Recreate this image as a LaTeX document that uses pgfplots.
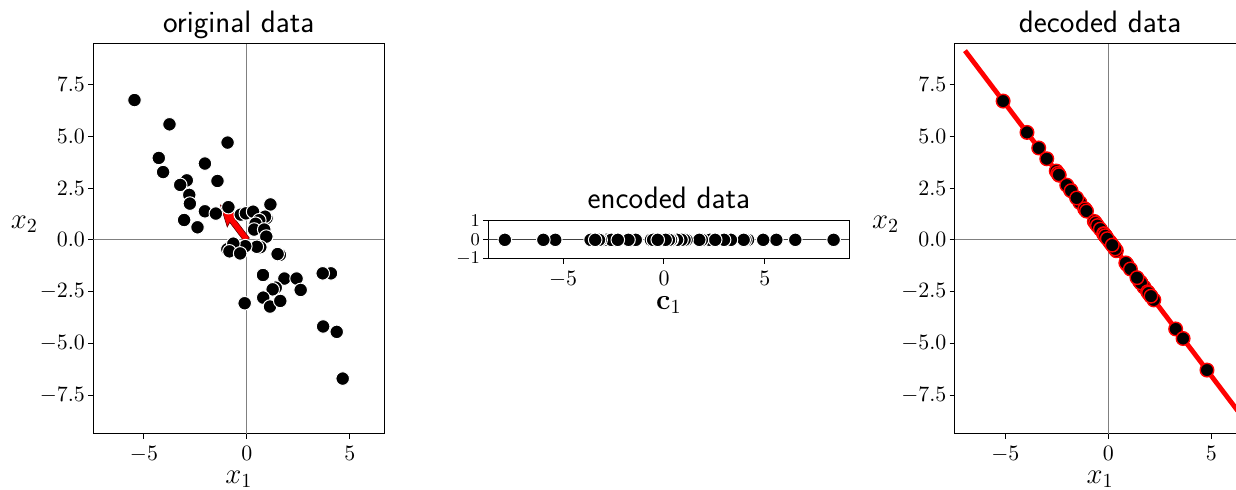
\documentclass[border=0pt]{standalone}
\usepackage{pgfplots}
\pgfplotsset{compat=1.18}

\pgfplotsset{
  panel/.style={
    scale only axis,
    axis line style={line width=0.5pt},
    every tick/.style={black, line width=0.5pt},
    tick align=outside,
    major tick length=2.5pt,
    xtick pos=bottom, ytick pos=left,
    tick label style={font=\fontsize{10.5}{12}\selectfont},
    yticklabel style={inner sep=1.5pt},
    every axis title/.style={at={(axis description cs:0.5,1)}, anchor=base,
      yshift=5.5pt, font=\sffamily\fontsize{15.5}{18}\selectfont},
    every axis x label/.style={at={(axis description cs:0.5,0)}, anchor=center,
      yshift=-22.5pt, font=\fontsize{14.5}{16}\selectfont},
    every axis y label/.style={at={(axis description cs:0,0.5)}, anchor=center,
      xshift=-34.5pt, yshift=7.5pt, font=\fontsize{14.5}{16}\selectfont},
  },
  pts/.style={only marks, mark=*, mark size=3.4pt,
    mark options={fill=black, draw=white, line width=0.5pt}},
  zeroline/.style={gray, line width=0.5pt},
}

\begin{document}
\begin{tikzpicture}

% original data
\begin{axis}[panel, at={(46.65pt,28pt)}, anchor=south west,
  width=145.5pt, height=195pt,
  xmin=-7.46, xmax=6.67, ymin=-9.35, ymax=9.44,
  xtick={-5,0,5}, ytick={-7.5,-5,-2.5,0,2.5,5,7.5},
  yticklabel style={/pgf/number format/.cd, fixed, fixed zerofill, precision=1},
  title={original data}, xlabel={$x_1$}, ylabel={$x_2$}]
\addplot[zeroline] coordinates {(-7.46,0) (6.67,0)};
\addplot[zeroline] coordinates {(0,-9.35) (0,9.44)};
\addplot[pts] coordinates {
(-5.46,6.74) (-3.76,5.57) (-0.94,4.69) (-4.28,3.95) (-4.07,3.27) (-2.04,3.68)
(-1.43,2.84) (-2.92,2.87) (-3.24,2.65) (-2.80,2.17) (-2.77,1.75) (-2.04,1.38)
(-1.51,1.27) (-3.05,0.96) (-2.40,0.61) (-0.90,1.58) (-0.30,1.22) (-0.05,1.28)
(0.30,1.36) (1.14,1.71) (0.95,1.05) (0.88,1.12) (0.60,0.95) (0.42,0.78)
(0.35,0.50) (0.84,0.50) (0.94,0.16) (-0.95,-0.45) (0.65,-0.35) (0.48,-0.33)
(-0.08,-0.30) (-0.66,-0.18) (-0.85,-0.55) (-0.33,-0.65) (1.60,-0.72) (1.49,-0.68)
(0.78,-1.69) (1.82,-1.86) (2.41,-1.86) (2.61,-2.41) (1.40,-2.30) (1.25,-2.38)
(0.79,-2.78) (1.12,-3.21) (1.62,-2.94) (-0.11,-3.05) (4.08,-1.61) (3.68,-1.61)
(3.70,-4.17) (4.36,-4.43) (4.65,-6.68)
};
% principal direction
\addplot[fill=red, draw=red!40!black, line width=0.3pt] coordinates {
(0.119,0.091) (-0.597,1.028) (-0.399,1.180) (-1.287,1.685)
(-0.956,0.623) (-0.836,0.848) (-0.119,-0.091) (0.119,0.091)
};
\end{axis}

% encoded data
\begin{axis}[panel, at={(244.15pt,115.5pt)}, anchor=south west,
  width=180.5pt, height=19.15pt,
  xmin=-8.71, xmax=9.19, ymin=-1, ymax=1,
  xtick={-5,0,5}, ytick={-1,0,1},
  yticklabel style={font=\fontsize{9.5}{11}\selectfont},
  title={encoded data}, title style={yshift=0.8pt},
  xlabel={$\mathbf{c}_1$}, xlabel style={yshift=-0.5pt}]
\addplot[black!75, line width=0.5pt] coordinates {(-8.71,0) (9.19,0)};
\addplot[pts] coordinates {
(8.41,0) (6.51,0) (4.17,0) (5.57,0) (4.92,0) (4.04,0) (3.03,0) (3.93,0)
(3.95,0) (3.32,0) (2.98,0) (2.27,0) (1.87,0) (2.54,0) (1.88,0) (1.75,0)
(1.12,0) (1.02,0) (0.87,0) (0.65,0) (0.25,0) (0.35,0) (0.38,0) (0.35,0)
(0.18,0) (-0.11,0) (-0.43,0) (0.21,0) (-0.65,0) (-0.54,0) (-0.18,0) (0.25,0)
(0.08,0) (-0.31,0) (-1.50,0) (-1.40,0) (-1.76,0) (-2.51,0) (-2.85,0) (-3.40,0)
(-2.60,0) (-2.57,0) (-2.61,0) (-3.14,0) (-3.22,0) (-2.29,0) (-3.64,0) (-3.41,0)
(-5.39,0) (-5.98,0) (-7.89,0)
};
\end{axis}

% decoded data
\begin{axis}[panel, at={(477.35pt,28pt)}, anchor=south west,
  width=145.5pt, height=195pt,
  xmin=-7.46, xmax=6.67, ymin=-9.35, ymax=9.44,
  xtick={-5,0,5}, ytick={-7.5,-5,-2.5,0,2.5,5,7.5},
  yticklabel style={/pgf/number format/.cd, fixed, fixed zerofill, precision=1},
  title={decoded data}, xlabel={$x_1$}, ylabel={$x_2$}]
\addplot[zeroline] coordinates {(-7.46,0) (6.67,0)};
\addplot[zeroline] coordinates {(0,-9.35) (0,9.44)};
\addplot[red, line width=2.4pt] coordinates {(-6.96,9.12) (6.96,-9.12)};
\addplot[pts, mark options={fill=black, draw=red, line width=0.7pt}] coordinates {
(-5.11,6.69) (-3.95,5.18) (-2.53,3.32) (-3.38,4.43) (-2.99,3.91) (-2.45,3.21)
(-1.84,2.41) (-2.39,3.12) (-2.40,3.14) (-2.02,2.64) (-1.81,2.37) (-1.38,1.80)
(-1.14,1.49) (-1.54,2.02) (-1.14,1.49) (-1.06,1.39) (-0.68,0.89) (-0.62,0.81)
(-0.53,0.69) (-0.39,0.52) (-0.15,0.20) (-0.21,0.28) (-0.23,0.30) (-0.21,0.28)
(-0.11,0.14) (0.07,-0.09) (0.26,-0.34) (-0.13,0.17) (0.39,-0.52) (0.33,-0.43)
(0.11,-0.14) (-0.15,0.20) (-0.05,0.06) (0.19,-0.25) (0.91,-1.19) (0.85,-1.11)
(1.07,-1.40) (1.52,-2.00) (1.73,-2.27) (2.06,-2.70) (1.58,-2.07) (1.56,-2.04)
(1.58,-2.07) (1.91,-2.50) (1.95,-2.56) (1.39,-1.82) (2.21,-2.89) (2.07,-2.71)
(3.27,-4.29) (3.63,-4.75) (4.79,-6.27)
};
\end{axis}

\pgfresetboundingbox
\path[use as bounding box] (0,0) rectangle (618pt,245pt);
\end{tikzpicture}
\end{document}
